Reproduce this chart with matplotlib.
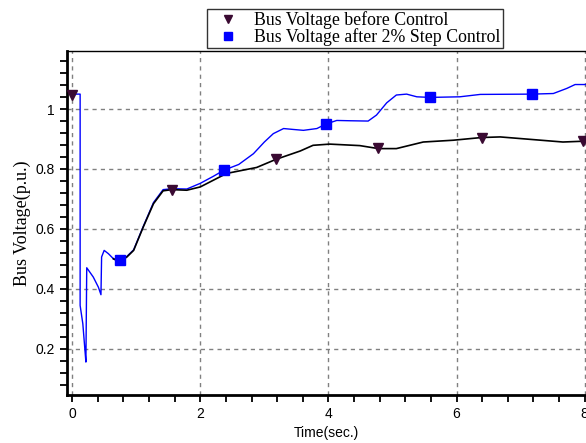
import numpy as np
import matplotlib
matplotlib.use('Agg')
import matplotlib.pyplot as plt
from matplotlib.lines import Line2D
from matplotlib.ticker import MultipleLocator

#---------------data-------------------------------------------

# fault transient, both cases identical here (drawn blue)
t_fault = [0, 0.125, 0.125, 0.167, 0.198, 0.215, 0.228, 0.33, 0.41, 0.45, 0.46, 0.50, 0.566, 0.645]
v_fault = [1.05, 1.05, 0.344, 0.283, 0.20, 0.155, 0.47, 0.439, 0.405, 0.38, 0.506, 0.528, 0.517, 0.50]

# bus voltage before control
t_before = [0.645, 0.70, 0.75, 0.85, 0.96, 1.11, 1.27, 1.42, 1.56, 1.79, 2.0, 2.41, 2.88, 3.18,
            3.56, 3.76, 4.02, 4.49, 4.78, 5.06, 5.48, 5.95, 6.39, 6.68, 7.20, 7.66, 8.02]
v_before = [0.50, 0.494, 0.495, 0.505, 0.528, 0.606, 0.684, 0.727, 0.731, 0.729, 0.74, 0.785, 0.805, 0.832,
            0.86, 0.879, 0.883, 0.878, 0.868, 0.868, 0.89, 0.896, 0.905, 0.907, 0.898, 0.89, 0.893]

# bus voltage after 2% step control
t_after = [0.645, 0.70, 0.75, 0.85, 0.96, 1.11, 1.27, 1.42, 1.56, 1.79, 2.0, 2.2, 2.37, 2.6, 2.83,
           3.0, 3.14, 3.30, 3.45, 3.61, 3.82, 3.96, 4.13, 4.34, 4.62, 4.75, 4.91, 5.06, 5.22,
           5.38, 5.585, 6.05, 6.37, 7.18, 7.51, 7.72, 7.85, 8.02]
v_after = [0.50, 0.494, 0.495, 0.507, 0.53, 0.608, 0.688, 0.731, 0.734, 0.733, 0.752, 0.775, 0.796, 0.815, 0.851,
           0.89, 0.918, 0.935, 0.932, 0.929, 0.935, 0.95, 0.962, 0.961, 0.96, 0.98, 1.021, 1.047, 1.05,
           1.041, 1.039, 1.041, 1.049, 1.05, 1.052, 1.069, 1.082, 1.082]

# marker positions
tm_before = [0, 1.56, 3.18, 4.78, 6.39, 7.97]
vm_before = [1.047, 0.729, 0.832, 0.870, 0.905, 0.892]
tm_after = [0.75, 2.37, 3.96, 5.585, 7.18]
vm_after = [0.497, 0.796, 0.95, 1.039, 1.05]

xticks = [0, 2, 4, 6, 8]
yticks = [0.2, 0.4, 0.6, 0.8, 1.0]
yticklabels = ['0.2', '0.4', '0.6', '0.8', '1']

#---------------plot---------------------
tri_color = '#3a0a32'
blue = '#0000ff'

fig = plt.figure(figsize=(5.86, 4.43), dpi=100)
ax = fig.add_axes([67/586, 1-395/443, (586-67)/586, (395-51)/443])

ax.plot(t_fault, v_fault, color=blue, lw=1.0, zorder=3)
ax.plot(t_after, v_after, color=blue, lw=1.0, zorder=3)
ax.plot(t_before, v_before, color='black', lw=1.2, zorder=4)

ax.plot(tm_before, vm_before, ls='none', marker='v', ms=7.5, color=tri_color, zorder=5)
ax.plot(tm_after, vm_after, ls='none', marker='s', ms=7, color=blue, zorder=5)

ax.set_xlim(-0.08, 8.02)
ax.set_ylim(0.045, 1.194)

ax.set_xticks(xticks)
ax.set_yticks(yticks)
ax.set_yticklabels(yticklabels)
ax.xaxis.set_minor_locator(MultipleLocator(0.4))
ax.yaxis.set_minor_locator(MultipleLocator(0.04))
ax.tick_params(which='both', direction='out', length=5, width=1.3, color='black')
ax.tick_params(labelsize=10, pad=4)
for lab in ax.get_xticklabels() + ax.get_yticklabels():
    lab.set_family('Liberation Sans')

ax.grid(True, which='major', color='#808080', lw=1.0, ls=(0, (3, 3)))

ax.spines['left'].set_linewidth(2)
ax.spines['bottom'].set_linewidth(2)
ax.spines['top'].set_linewidth(1)
ax.spines['right'].set_visible(False)

ax.set_xlabel('Time(sec.)', family='Liberation Sans', fontsize=10, labelpad=3)
ax.set_ylabel('Bus Voltage(p.u.)', family='Liberation Serif', fontsize=13, labelpad=3)

handles = [Line2D([], [], ls='none', marker='v', ms=6, color=tri_color),
           Line2D([], [], ls='none', marker='s', ms=6, color=blue)]
leg = fig.legend(handles, ['Bus Voltage before Control', 'Bus Voltage after 2% Step Control'],
                 loc='lower left', bbox_to_anchor=(207/586, 1-48/443),
                 prop={'family': 'Liberation Serif', 'size': 12.8},
                 frameon=True, fancybox=False, shadow=False, borderpad=0.12,
                 labelspacing=-0.08, handlelength=2.1, handletextpad=0.45, borderaxespad=0)
leg.get_frame().set_edgecolor('black')
leg.get_frame().set_linewidth(1.0)

fig.savefig('out.png', dpi=100)
